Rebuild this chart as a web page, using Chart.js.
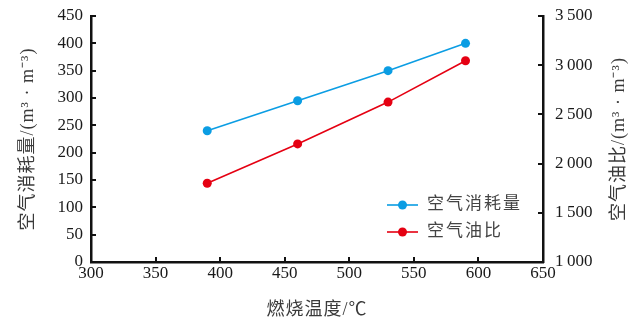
<!DOCTYPE html>
<html>
<head>
<meta charset="utf-8">
<script src="https://cdn.jsdelivr.net/npm/chart.js@4"></script>
<style>
  html, body { margin: 0; padding: 0; background: #fff; }
  #wrap { width: 642px; height: 326px; }
</style>
</head>
<body>
<div id="wrap"><canvas id="myChart" width="642" height="326"></canvas></div>
<script>
// data
const temps = [390, 460, 530, 590]
const airConsumption = [240, 295, 350, 400]
const airOilRatio = [1800, 2200, 2625, 3045]

const seriesNames = ['空气消耗量', '空气油比']
const xTitle = '燃烧温度/℃'
const yTitle = '空气消耗量/(m³ · m⁻³)'
const y1Title = '空气油比/(m³ · m⁻³)'

const blue = '#0b9de3'
const red = '#e50012'
const serif = "'Liberation Serif', 'Noto Sans CJK SC', serif"
const tickFont = { family: "'Liberation Serif', serif", size: 17 }

function pairs(xs, ys) {
    return xs.map((x, i) => ({ x: x, y: ys[i] }))
}

function thinSpace(v) {
    let s = String(v)
    if (v >= 1000) s = s.slice(0, s.length - 3) + '\u2009' + s.slice(-3)
    return s
}

// inward tick marks + axis titles + legend
const decor = {
    id: 'decor',
    afterDraw(chart) {
        const ctx = chart.ctx
        const a = chart.chartArea
        const sx = chart.scales.x, sy = chart.scales.y, sy1 = chart.scales.y1
        ctx.save()
        ctx.strokeStyle = '#111'
        ctx.lineWidth = 2
        const len = 5
        sx.ticks.forEach(t => {
            const px = Math.round(sx.getPixelForValue(t.value))
            ctx.beginPath(); ctx.moveTo(px, a.bottom); ctx.lineTo(px, a.bottom - len); ctx.stroke()
        })
        sy.ticks.forEach(t => {
            const py = Math.round(sy.getPixelForValue(t.value))
            ctx.beginPath(); ctx.moveTo(a.left, py); ctx.lineTo(a.left + len, py); ctx.stroke()
        })
        sy1.ticks.forEach(t => {
            const py = Math.round(sy1.getPixelForValue(t.value))
            ctx.beginPath(); ctx.moveTo(a.right, py); ctx.lineTo(a.right - len, py); ctx.stroke()
        })

        // titles
        ctx.fillStyle = '#3a3a3a'
        ctx.font = '18px ' + serif
        ctx.letterSpacing = '1px'
        ctx.textAlign = 'center'
        ctx.textBaseline = 'middle'
        const midY = (a.top + a.bottom) / 2
        ctx.fillText(xTitle, (a.left + a.right) / 2, 310)
        ctx.save(); ctx.translate(28, midY); ctx.rotate(-Math.PI / 2); ctx.fillText(yTitle, 0, 0); ctx.restore()
        ctx.save(); ctx.translate(619, midY); ctx.rotate(-Math.PI / 2); ctx.fillText(y1Title, 0, 0); ctx.restore()

        // legend
        const items = chart.data.datasets
        ctx.textAlign = 'left'
        ctx.font = '17px ' + serif
        ctx.letterSpacing = '2px'
        items.forEach((ds, i) => {
            const ly = 205 + i * 27
            ctx.strokeStyle = ds.borderColor
            ctx.lineWidth = 1.6
            ctx.beginPath(); ctx.moveTo(387, ly); ctx.lineTo(418, ly); ctx.stroke()
            ctx.fillStyle = ds.borderColor
            ctx.beginPath(); ctx.arc(402.5, ly, 4.5, 0, Math.PI * 2); ctx.fill()
            ctx.fillStyle = '#444'
            ctx.fillText(ds.label, 427, ly)
        })
        ctx.restore()
    }
}

function fitY(width) {
    return function (s) {
        s.width = width
        s.paddingTop = 0
        s.paddingBottom = 0
    }
}

const data = {
    datasets: [{
        label: seriesNames[0],
        data: pairs(temps, airConsumption),
        yAxisID: 'y',
        borderColor: blue,
        backgroundColor: blue,
        borderWidth: 1.6,
        pointRadius: 4.5,
        pointBorderWidth: 0
    }, {
        label: seriesNames[1],
        data: pairs(temps, airOilRatio),
        yAxisID: 'y1',
        borderColor: red,
        backgroundColor: red,
        borderWidth: 1.6,
        pointRadius: 4.5,
        pointBorderWidth: 0
    }]
}

const config = {
    type: 'line',
    data: data,
    plugins: [decor],
    options: {
        responsive: false,
        animation: false,
        layout: { padding: { top: 16, left: 0, right: 0, bottom: 0 } },
        plugins: { legend: { display: false }, tooltip: { enabled: false } },
        scales: {
            x: {
                type: 'linear',
                position: 'bottom',
                min: 300, max: 650,
                ticks: { stepSize: 50, font: tickFont, color: '#1a1a1a', padding: 1, maxRotation: 0 },
                grid: { display: false, drawTicks: false },
                border: { display: true, color: '#111', width: 2.5 },
                afterFit(s) { s.height = 64; s.paddingLeft = 0; s.paddingRight = 0 }
            },
            y: {
                position: 'left',
                min: 0, max: 450,
                ticks: { stepSize: 50, font: tickFont, color: '#1a1a1a', padding: 8 },
                grid: { display: false, drawTicks: false },
                border: { display: true, color: '#111', width: 2.5 },
                afterFit: fitY(91)
            },
            y1: {
                position: 'right',
                min: 1000, max: 3500,
                ticks: { stepSize: 500, font: tickFont, color: '#1a1a1a', padding: 12, callback: v => thinSpace(v) },
                grid: { display: false, drawTicks: false },
                border: { display: true, color: '#111', width: 2.5 },
                afterFit: fitY(99)
            }
        }
    }
}

const myChart = new Chart(document.getElementById('myChart'), config)
</script>
</body>
</html>
